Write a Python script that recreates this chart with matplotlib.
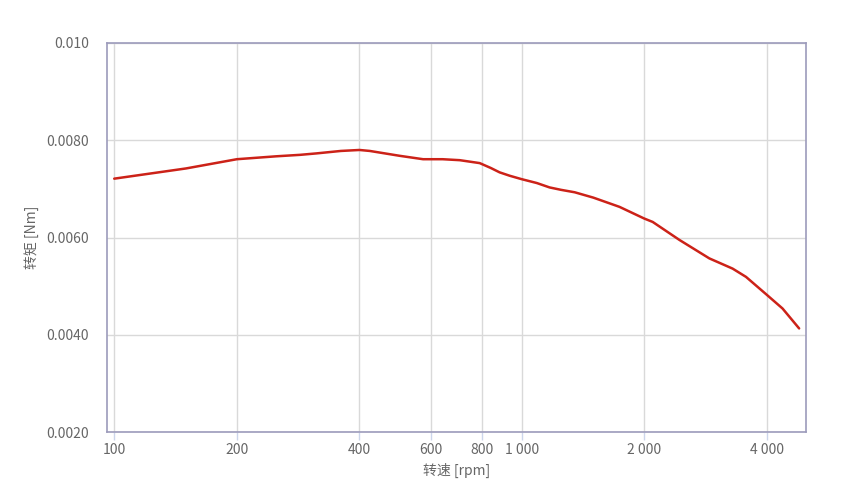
import matplotlib
matplotlib.use('Agg')
import matplotlib.pyplot as plt
from matplotlib.ticker import FixedLocator, FixedFormatter, NullLocator

plt.rcParams['font.family'] = ['Noto Sans CJK SC', 'DejaVu Sans']

# speed [rpm] vs torque [Nm]
rpm = [100, 150, 200, 250, 286, 314, 360, 400, 424, 502, 573, 640, 705, 789,
       840, 883, 935, 1000, 1090, 1171, 1250, 1350, 1500, 1739, 2000, 2098,
       2440, 2890, 3296, 3555, 4000, 4370, 4800]
torque = [0.00721, 0.00742, 0.00761, 0.00767, 0.00770, 0.00773, 0.00778, 0.00780,
          0.00778, 0.00768, 0.00761, 0.00761, 0.00759, 0.00753, 0.00743, 0.00734,
          0.00727, 0.00720, 0.00712, 0.00703, 0.00698, 0.00693, 0.00682, 0.00663,
          0.00639, 0.00632, 0.00595, 0.00557, 0.00536, 0.00519, 0.00482,
          0.00454, 0.00413]

x_ticks = [100, 200, 400, 600, 800, 1000, 2000, 4000]
x_labels = ['100', '200', '400', '600', '800', '1 000', '2 000', '4 000']
y_ticks = [0.002, 0.004, 0.006, 0.008, 0.010]
y_labels = ['0.0020', '0.0040', '0.0060', '0.0080', '0.010']

fig = plt.figure(figsize=(8.53, 5.03), dpi=100)
ax = fig.add_axes([107 / 853, 1 - 432 / 503, 699 / 853, 389 / 503])

ax.plot(rpm, torque, color='#cc2218', linewidth=1.8, solid_capstyle='round',
        solid_joinstyle='round', zorder=3)

ax.set_xscale('log')
ax.set_xlim(96, 4990)
ax.set_ylim(0.002, 0.010)

ax.xaxis.set_major_locator(FixedLocator(x_ticks))
ax.xaxis.set_major_formatter(FixedFormatter(x_labels))
ax.xaxis.set_minor_locator(NullLocator())
ax.yaxis.set_major_locator(FixedLocator(y_ticks))
ax.yaxis.set_major_formatter(FixedFormatter(y_labels))

ax.grid(True, color='#d9d9d9', linewidth=1)
ax.set_axisbelow(True)

for s in ax.spines.values():
    s.set_color('#9c9bbb')
    s.set_linewidth(1.2)

ax.tick_params(axis='x', length=6, width=1, color='#ccd6eb', labelsize=10,
               labelcolor='#666666', pad=2)
ax.tick_params(axis='y', length=0, labelsize=10, labelcolor='#666666', pad=13)

ax.set_xlabel('转速 [rpm]', fontsize=10, color='#666666', labelpad=4)
ax.set_ylabel('转矩 [Nm]', fontsize=10, color='#666666', labelpad=5)

plt.savefig('out.png', dpi=100)
